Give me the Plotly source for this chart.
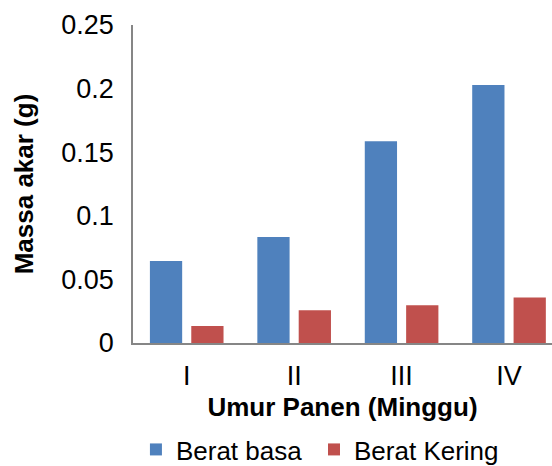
import plotly.graph_objects as go

categories = ["I", "II", "III", "IV"]
berat_basa = [0.0645, 0.0834, 0.1587, 0.2028]
berat_kering = [0.0134, 0.0257, 0.0297, 0.0357]
series_names = ["Berat basa", "Berat Kering"]
colors = ["#4F81BD", "#C0504D"]
y_ticks = [0, 0.05, 0.1, 0.15, 0.2, 0.25]
y_tick_labels = ["0", "0.05", "0.1", "0.15", "0.2", "0.25"]

FONT = "Liberation Sans, Arial, sans-serif"
FS = 26
TFS = 27

fig = go.Figure()
for name, vals, col, lg in zip(series_names, [berat_basa, berat_kering], colors,
                               ["legend", "legend2"]):
    fig.add_trace(go.Bar(x=categories, y=vals, name=name, marker_color=col,
                         marker_line_width=0, legend=lg))

legend_common = dict(orientation="h", xanchor="left", y=-0.335, yanchor="middle",
                     font=dict(size=FS, family=FONT), bgcolor="rgba(0,0,0,0)")

fig.update_layout(
    width=552, height=466,
    margin=dict(l=133, r=0, t=25, b=123, autoexpand=False),
    paper_bgcolor="white", plot_bgcolor="white",
    barmode="group", bargap=0.23, bargroupgap=0.22,
    font=dict(family=FONT, size=FS, color="black"),
    showlegend=True,
    legend=dict(x=0.007, **legend_common),
    legend2=dict(x=0.432, **legend_common),
)
fig.update_xaxes(
    range=[-0.5, 3.4], showline=True, linecolor="#868686", linewidth=1.5,
    showgrid=False, ticks="", ticklabelstandoff=8, automargin=False,
    tickfont=dict(size=TFS, family=FONT),
    title=dict(text="<b>Umur Panen (Minggu)</b>", font=dict(size=FS, family=FONT), standoff=8),
)
fig.update_yaxes(
    range=[0, 0.25], tickvals=y_ticks, ticktext=y_tick_labels,
    showline=True, linecolor="#868686", linewidth=1.5,
    showgrid=False, zeroline=False, ticks="", ticklabelstandoff=12, automargin=False,
    tickfont=dict(size=TFS, family=FONT),
    title=dict(text="<b>Massa akar (g)</b>", font=dict(size=FS, family=FONT), standoff=20),
)

fig.write_html("out.html", config={"displayModeBar": False},
               post_script="document.body.style.margin='0';document.body.style.overflow='hidden';")
